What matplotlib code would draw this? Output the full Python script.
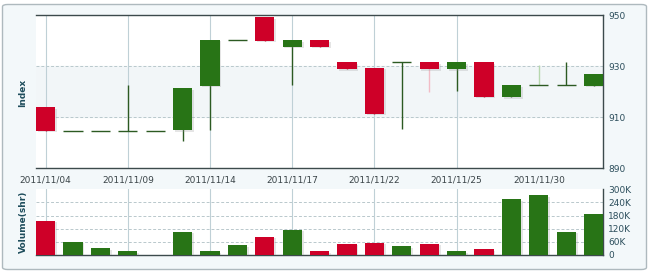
import matplotlib
matplotlib.use("Agg")
import matplotlib.pyplot as plt
from matplotlib.patches import FancyBboxPatch
import matplotlib.patheffects as pe
import numpy as np

# ---- data ----
dates = ["2011/11/04", "2011/11/07", "2011/11/08", "2011/11/09", "2011/11/10",
         "2011/11/11", "2011/11/14", "2011/11/15", "2011/11/16", "2011/11/17",
         "2011/11/18", "2011/11/21", "2011/11/22", "2011/11/23", "2011/11/24",
         "2011/11/25", "2011/11/28", "2011/11/29", "2011/11/30", "2011/12/01",
         "2011/12/02"]
opens = [913.9, 904.7, 904.7, 904.7, 904.7, 905.0, 922.4, 940.2, 949.2, 937.7,
         940.2, 931.7, 929.5, 931.6, 931.6, 929.0, 931.6, 918.0, 922.5, 922.5, 922.4]
highs = [913.9, 904.7, 904.7, 922.7, 904.7, 921.5, 940.4, 940.2, 949.2, 940.3,
         940.2, 931.7, 929.5, 931.6, 931.6, 931.6, 931.6, 922.7, 930.5, 931.6, 927.0]
lows = [904.7, 904.7, 904.7, 904.7, 904.7, 900.7, 905.0, 940.2, 940.0, 922.7,
        937.7, 929.0, 911.4, 905.3, 919.8, 920.4, 918.1, 918.0, 922.5, 922.5, 922.4]
closes = [904.7, 904.7, 904.7, 904.7, 904.7, 921.5, 940.4, 940.2, 940.0, 940.3,
          937.7, 929.0, 911.4, 931.6, 929.0, 931.6, 918.1, 922.7, 922.5, 922.5, 927.0]
volumes_k = [157, 61, 32, 18, 0, 106, 18, 46, 83, 115, 18, 51, 57, 40, 51, 18,
             26, 254, 272, 106, 186]
tick_labels = ["2011/11/04", "2011/11/09", "2011/11/14", "2011/11/17",
               "2011/11/22", "2011/11/25", "2011/11/30"]
price_ticks = [890, 910, 930, 950]
vol_ticks = [0, 60, 120, 180, 240, 300]
vol_tick_labels = ["0", "60K", "120K", "180K", "240K", "300K"]

# ---- style ----
RED = "#CE0028"
GREEN = "#287416"
DOJI = "#2C5A22"
LABEL_C = "#2C4E5C"
SPINE_C = "#3C4A4C"
VGRID_C = "#BFD0D6"
HGRID_C = "#B9C8CC"
BG = "#F3F8FA"
faded_wick = {14: "#F2BCC6", 18: "#B7D7AE"}

W, H = 650, 272
fig = plt.figure(figsize=(W / 100, H / 100), dpi=100)
fig.patch.set_facecolor("white")
fig.patches.append(FancyBboxPatch((2.5 / W, 2.5 / H), (W - 6) / W, (H - 7) / H,
                                  boxstyle="round,pad=0,rounding_size=0.008",
                                  transform=fig.transFigure, facecolor=BG,
                                  edgecolor="#AEB9BE", linewidth=1.0, zorder=-10))

x = np.arange(len(dates))
tick_pos = [dates.index(t) for t in tick_labels]
width = 0.7
xlim = (-0.35, len(dates) - 1 + 0.35)

left, right = 36 / W, 603.3 / W
axp = fig.add_axes([left, 1 - 168.3 / H, right - left, 153 / H])
axv = fig.add_axes([left, 1 - 255 / H, right - left, 65.7 / H])

shadow = [pe.SimplePatchShadow(offset=(1.2, -1.2), shadow_rgbFace="#999999", alpha=0.25),
          pe.Normal()]

# ---- price panel ----
axp.set_facecolor("white")
axp.axhspan(910, 930, color="#F2F6F8", zorder=0)
for v in price_ticks[1:-1]:
    axp.axhline(v, color=HGRID_C, lw=0.7, ls=(0, (3, 2)), zorder=0.5)
for p in tick_pos[:-1]:
    axp.axvline(p, color=VGRID_C, lw=0.8, zorder=0.6)
    axv.axvline(p, color=VGRID_C, lw=0.8, zorder=0.6)

for i in x:
    o, h, l, c = opens[i], highs[i], lows[i], closes[i]
    if c < o:
        col = RED
    elif c > o:
        col = GREEN
    else:
        col = DOJI
    wick_col = faded_wick.get(i, DOJI if col != RED else RED)
    if h > l:
        axp.vlines(i, l, h, color=wick_col, lw=1.0, zorder=2)
    if c == o:
        axp.hlines(o, i - width / 2, i + width / 2, color=DOJI, lw=1.0, zorder=3)
    else:
        b = axp.bar(i, abs(c - o), bottom=min(o, c), width=width, color=col,
                    linewidth=0, zorder=3)
        for r in b:
            r.set_path_effects(shadow)

axp.set_xlim(*xlim)
axp.set_ylim(890, 950)
axp.yaxis.tick_right()
axp.set_yticks(price_ticks)
axp.set_yticklabels([str(t) for t in price_ticks])
axp.set_xticks(tick_pos)
axp.set_xticklabels(tick_labels)
axp.tick_params(axis="both", length=0, labelsize=6.5, colors=LABEL_C)
axp.tick_params(axis="x", pad=5, colors="#3A4448")
axp.tick_params(axis="y", pad=3.5)
for s in ["left"]:
    axp.spines[s].set_visible(False)
for s in ["top", "bottom", "right"]:
    axp.spines[s].set_color(SPINE_C)
    axp.spines[s].set_linewidth(1.0)

# ---- volume panel ----
axv.set_facecolor("white")
for v in vol_ticks[1:-1]:
    axv.axhline(v, color=HGRID_C, lw=0.7, ls=(0, (3, 2)), zorder=0.5)
vcols = [RED if closes[i] < opens[i] else GREEN for i in x]
bars = axv.bar(x, volumes_k, width=width, color=vcols, linewidth=0, zorder=3)
for r in bars:
    r.set_path_effects(shadow)
axv.set_xlim(*xlim)
axv.set_ylim(0, 300)
axv.yaxis.tick_right()
axv.set_yticks(vol_ticks)
axv.set_yticklabels(vol_tick_labels)
axv.set_xticks([])
axv.tick_params(axis="both", length=0, labelsize=6.5, colors=LABEL_C, pad=3.5)
for s in ["left", "top"]:
    axv.spines[s].set_visible(False)
for s in ["bottom", "right"]:
    axv.spines[s].set_color(SPINE_C)
    axv.spines[s].set_linewidth(1.0)

fig.text(23 / W, 1 - 93 / H, "Index", rotation=90, ha="center", va="center",
         fontsize=6.5, fontweight="bold", color="#1E4D5C")
fig.text(23 / W, 1 - 222 / H, "Volume(shr)", rotation=90, ha="center", va="center",
         fontsize=6.5, fontweight="bold", color="#1E4D5C")

fig.savefig("out.png", dpi=100, facecolor=fig.get_facecolor())
